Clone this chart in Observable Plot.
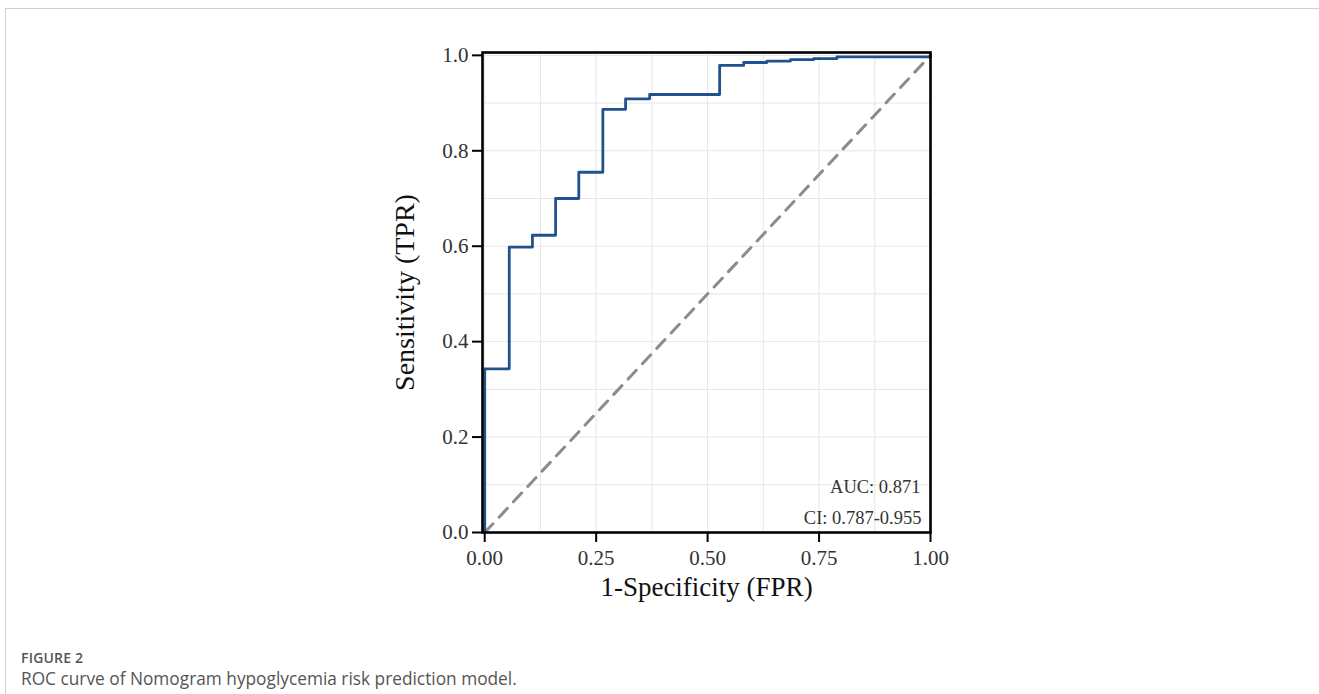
<!DOCTYPE html>
<html>
<head>
<meta charset="utf-8">
<script src="https://cdn.jsdelivr.net/npm/d3@7"></script>
<script src="https://cdn.jsdelivr.net/npm/@observablehq/plot@0.6"></script>
<style>
  html, body { margin: 0; padding: 0; background: #fff; }
  #page { position: absolute; left: 5px; top: 8px; width: 1314px; height: 686px;
          border-left: 1px solid #cfcfcf; border-top: 1px solid #cfcfcf; }
  #chart { position: absolute; left: -6px; top: -9px; }
  #cap { position: absolute; left: 15px; top: 639px; font-family: "Open Sans", sans-serif; color: #555; }
  #cap .lab { font-size: 14px; font-weight: 600; letter-spacing: 0.2px; }
  #cap .txt { font-size: 17.3px; font-weight: 400; margin-top: 0px; }
</style>
</head>
<body>
<div id="page">
  <div id="chart"></div>
  <div id="cap">
    <div class="lab">FIGURE 2</div>
    <div class="txt">ROC curve of Nomogram hypoglycemia risk prediction model.</div>
  </div>
</div>
<script>
// ROC step corners (value of TPR reached at each FPR jump)
const fpr = [0, 0, 0.055, 0.107, 0.159, 0.211, 0.265, 0.316, 0.370, 0.527, 0.581, 0.633, 0.686, 0.738, 0.790, 1.0];
const tpr = [0, 0.343, 0.598, 0.623, 0.700, 0.755, 0.887, 0.909, 0.918, 0.979, 0.985, 0.988, 0.991, 0.993, 0.997, 1.0];
const diagX = [0, 1];
const diagY = [0, 1];
const xTicks = [0, 0.25, 0.5, 0.75, 1];
const yTicks = [0, 0.2, 0.4, 0.6, 0.8, 1];
const xGrid = [0, 0.125, 0.25, 0.375, 0.5, 0.625, 0.75, 0.875, 1];
const yGrid = [0, 0.1, 0.2, 0.3, 0.4, 0.5, 0.6, 0.7, 0.8, 0.9, 1];
const annot = ["AUC: 0.871", "CI: 0.787-0.955"];

const roc = fpr.map((x, i) => ({x, y: tpr[i]}));
const diag = diagX.map((x, i) => ({x, y: diagY[i]}));
const serif = "'Liberation Serif', 'Times New Roman', serif";

const chart = Plot.plot({
  width: 1319,
  height: 612,
  marginLeft: 482,
  marginRight: 389,
  marginTop: 52,
  marginBottom: 80,
  style: {fontFamily: serif, background: "transparent", overflow: "visible"},
  x: {domain: [-0.005, 1]},
  y: {domain: [0, 1.006]},
  marks: [
    Plot.gridX(xGrid, {stroke: "#e6e6e6", strokeOpacity: 1, strokeWidth: 1}),
    Plot.gridY(yGrid, {stroke: "#e6e6e6", strokeOpacity: 1, strokeWidth: 1}),
    Plot.line(diag, {x: "x", y: "y", stroke: "#8c8c8c", strokeWidth: 3, strokeDasharray: "12,9"}),
    Plot.line(roc, {x: "x", y: "y", curve: "step-after", stroke: "#22528d", strokeWidth: 2.8}),
    Plot.frame({stroke: "black", strokeWidth: 2.6}),
    Plot.axisX(xTicks, {tickFormat: d3.format(".2f"), tickSize: 10, tickPadding: 8,
      stroke: "black", strokeWidth: 2, fill: "#333", fontSize: 21, label: null}),
    Plot.axisY(yTicks, {tickFormat: d3.format(".1f"), tickSize: 10, tickPadding: 4,
      stroke: "black", strokeWidth: 2, fill: "#333", fontSize: 21, label: null}),
    Plot.text(["1-Specificity (FPR)"], {frameAnchor: "bottom", dy: 63, fontSize: 27, fill: "#111", fontFamily: serif}),
    Plot.text(["Sensitivity (TPR)"], {frameAnchor: "left", dx: -77, rotate: -90, textAnchor: "middle", fontSize: 28, fill: "#111", fontFamily: serif}),
    Plot.text([annot[0]], {frameAnchor: "bottom-right", dx: -10, dy: -40, fontSize: 18.5, fill: "#333", textAnchor: "end"}),
    Plot.text([annot[1]], {frameAnchor: "bottom-right", dx: -9, dy: -9, fontSize: 18.5, fill: "#333", textAnchor: "end"})
  ]
});
document.getElementById("chart").appendChild(chart);
</script>
</body>
</html>
